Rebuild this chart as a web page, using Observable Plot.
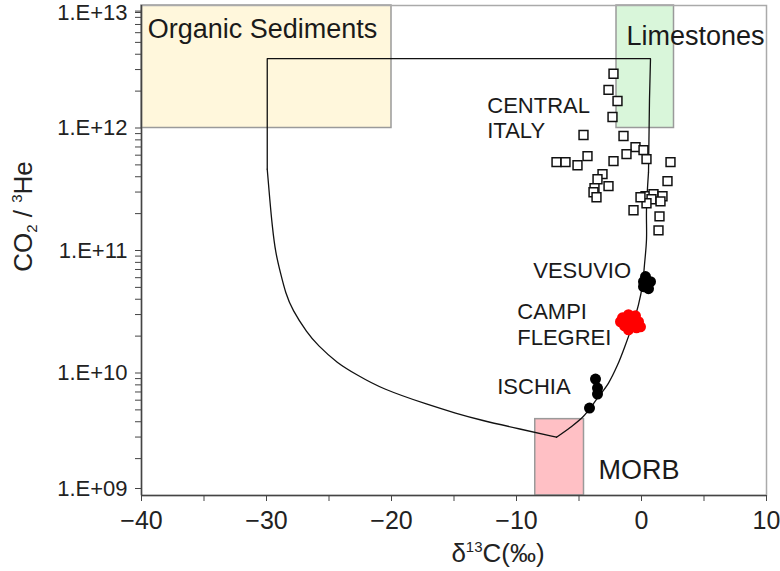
<!DOCTYPE html>
<html>
<head>
<meta charset="utf-8">
<script src="https://cdn.jsdelivr.net/npm/d3@7"></script>
<script src="https://cdn.jsdelivr.net/npm/@observablehq/plot@0.6"></script>
<style>
  html, body { margin: 0; padding: 0; background: #fff; }
</style>
</head>
<body>
<div id="chart"></div>
<script>
// ---- Data ----
const xTicks = [-40, -30, -20, -10, 0, 10];
const xMinorTicks = [-35, -25, -15, -5, 5];
const yTicks = [1e9, 1e10, 1e11, 1e12, 1e13];
const yMinorMultipliers = [2, 3, 4, 5, 6, 7, 8, 9];

// Source boxes
const boxNames = ["Organic Sediments", "Limestones", "MORB"];
const boxX1 = [-40, -2.0, -8.5];
const boxX2 = [-20, 2.6, -4.6];
const boxY1 = [1e12, 1e12, 1e9];
const boxY2 = [1e13, 1e13, 4.2e9];
const boxLabelX = [-39.5, -1.2, -3.44];
const boxLabelY = [6.35e12, 5.62e12, 1.6e9];

// Central Italy (open squares)
const centralX = [-2.24, -2.64, -1.92, -2.32, -4.64, -1.44, -0.48, 0.16, -1.2, 0.4, -2.24, -4.32, -5.12, -6.8, -6.08, 2.32, -3.12, -3.52, 2.08, -2.64, -3.76, -3.84, -3.6, 0.32, 0.96, 1.68, 0.8, 1.52, 0.4, -0.08, -0.64, 1.44, 1.36];
const centralY = [2.77e12, 2.05e12, 1.66e12, 1.23e12, 8.77e11, 8.6e11, 6.98e11, 6.6e11, 6.12e11, 5.57e11, 5.37e11, 5.89e11, 4.97e11, 5.26e11, 5.26e11, 5.26e11, 4.2e11, 3.82e11, 3.68e11, 3.35e11, 3.22e11, 2.99e11, 2.72e11, 2.77e11, 2.88e11, 2.77e11, 2.62e11, 2.52e11, 2.43e11, 2.72e11, 2.13e11, 1.9e11, 1.46e11];

// Vesuvio
const vesuvioX = [0.32, 0.72, 0.16, 0.56, 0.16];
const vesuvioY = [6.12e10, 5.57e10, 5.07e10, 4.88e10, 5.57e10];

// Campi Flegrei
const campiX = [-1.52, -1.04, -0.48, -0.24, -0.72, -1.36, -1.68, -1.04, -0.4, -0.88, -0.08];
const campiY = [2.82e10, 2.99e10, 2.93e10, 2.62e10, 2.43e10, 2.43e10, 2.62e10, 2.25e10, 2.34e10, 2.72e10, 2.38e10];

// Ischia
const ischiaX = [-3.68, -3.52, -3.52, -4.16];
const ischiaY = [8.93e9, 7.54e9, 6.73e9, 5.17e9];

// Mixing curve: straight upper part, smooth right branch, smooth left branch
const curveTopX = [-29.94, -29.94, 0.72, 0.64, 0.56];
const curveTopY = [4.61e11, 3.68e12, 3.68e12, 1.73e12, 4.36e11];
const curveRightX = [0.56, 0.4, 0.4, 0.24, 0.08, -0.24, -0.72, -1.28, -1.92, -2.64, -3.52, -4.64, -5.68, -6.8];
const curveRightY = [4.36e11, 2.17e11, 1.23e11, 7.68e10, 5.26e10, 3.61e10, 2.47e10, 1.7e10, 1.16e10, 8.28e9, 6.24e9, 4.44e9, 3.61e9, 2.99e9];
const curveLeftX = [-6.8, -9.68, -12.88, -14.88, -16.88, -20.88, -22.74, -24.34, -25.94, -26.74, -27.94, -28.48, -28.88, -29.28, -29.54, -29.74, -29.94];
const curveLeftY = [2.99e9, 3.48e9, 4.12e9, 4.7e9, 5.42e9, 7.49e9, 9.63e9, 1.2e10, 1.7e10, 2.12e10, 3.28e10, 4.5e10, 6.56e10, 9.58e10, 1.58e11, 2.62e11, 4.61e11];

// Site labels
const siteLabels = ["CENTRAL", "ITALY", "VESUVIO", "CAMPI", "FLEGREI", "ISCHIA"];
const siteLabelX = [-12.34, -12.34, -8.66, -9.94, -9.94, -11.54];
const siteLabelY = [1.51e12, 9.5e11, 6.76e10, 3.13e10, 1.95e10, 7.73e9];

// ---- Build tables ----
const zip = (xs, ys) => xs.map((x, i) => ({x, y: ys[i]}));
const boxes = boxNames.map((name, i) => ({name, x1: boxX1[i], x2: boxX2[i], y1: boxY1[i], y2: boxY2[i], lx: boxLabelX[i], ly: boxLabelY[i]}));
const central = zip(centralX, centralY);
const vesuvio = zip(vesuvioX, vesuvioY);
const campi = zip(campiX, campiY);
const ischia = zip(ischiaX, ischiaY);
const curveTop = zip(curveTopX, curveTopY);
const curveRight = zip(curveRightX, curveRightY);
const curveLeft = zip(curveLeftX, curveLeftY);
const sites = siteLabels.map((t, i) => ({t, x: siteLabelX[i], y: siteLabelY[i]}));
const yMinorTicks = yTicks.slice(0, -1).flatMap(d => yMinorMultipliers.map(m => m * d));

const boxFill = {"Organic Sediments": "#fff7dc", "Limestones": "#d9f6da", "MORB": "#ffc0c5"};
const boxFontSize = {"Organic Sediments": 27, "Limestones": 27, "MORB": 27};
const fmtY = d => "1.E+" + String(Math.round(Math.log10(d))).padStart(2, "0");
const axisColor = "#444";
const lineStyle = {x: "x", y: "y", stroke: "#111", strokeWidth: 1.3};

const yAxisOpts = {tickSize: 6, tickPadding: 8, fontSize: 22, tickFormat: fmtY, stroke: axisColor, fill: "#222"};

const plot = Plot.plot({
  width: 780,
  height: 571,
  marginLeft: 141,
  marginRight: 14,
  marginTop: 5,
  marginBottom: 76,
  style: {fontFamily: "'Liberation Sans', Arial, sans-serif", background: "#fff", color: "#222", overflow: "visible"},
  x: {domain: [-40, 10], label: null},
  y: {type: "log", domain: [1e9, 1e13], label: null},
  marks: [
    Plot.rect(boxes, {x1: "x1", x2: "x2", y1: "y1", y2: "y2", fill: d => boxFill[d.name], stroke: "#9a9a9a", strokeWidth: 1.5}),
    Plot.frame({stroke: "#aaa", strokeWidth: 1.5}),
    Plot.line(curveTop, {...lineStyle, curve: "linear"}),
    Plot.line(curveRight, {...lineStyle, curve: "catmull-rom"}),
    Plot.line(curveLeft, {...lineStyle, curve: "basis"}),
    Plot.dot(central, {x: "x", y: "y", symbol: "square", r: 5, fill: "#fff", stroke: "#111", strokeWidth: 1.5}),
    Plot.dot(vesuvio, {x: "x", y: "y", r: 5.5, fill: "#000"}),
    Plot.dot(campi, {x: "x", y: "y", r: 5.5, fill: "#ff0000"}),
    Plot.dot(ischia, {x: "x", y: "y", r: 5.5, fill: "#000"}),
    Plot.text(boxes, {x: "lx", y: "ly", text: "name", textAnchor: "start", fontSize: d => boxFontSize[d.name], fill: "#1a1a1a"}),
    Plot.text(sites, {x: "x", y: "y", text: "t", textAnchor: "start", fontSize: 22, fill: "#1a1a1a"}),
    Plot.ruleX([-40], {stroke: axisColor, strokeWidth: 1.5}),
    Plot.ruleY([1e9], {stroke: axisColor, strokeWidth: 1.5}),
    Plot.axisX(xMinorTicks, {tickSize: 6, tickFormat: () => "", stroke: axisColor}),
    Plot.axisX(xTicks, {tickSize: 6, tickPadding: 10, fontSize: 25, stroke: axisColor, fill: "#222"}),
    Plot.axisY(yMinorTicks, {tickSize: 6, tickFormat: () => "", stroke: axisColor}),
    Plot.axisY([1e10, 1e11, 1e12], yAxisOpts),
    Plot.axisY([1e9], {...yAxisOpts, dy: -7}),
    Plot.axisY([1e13], {...yAxisOpts, dy: 7}),
    Plot.text(["XTITLE"], {frameAnchor: "bottom", textAnchor: "middle", lineAnchor: "middle", dx: 44, dy: 58, fontSize: 26, fill: "#222"}),
    Plot.text(["YTITLE"], {frameAnchor: "left", textAnchor: "middle", lineAnchor: "middle", dx: -118, dy: -34, rotate: -90, fontSize: 26, fill: "#222"})
  ]
});

// Rich text (super/subscripts) for the axis titles
d3.select(plot).selectAll("text").each(function() {
  const el = d3.select(this);
  if (this.textContent === "XTITLE") {
    el.text(null);
    el.append("tspan").text("δ");
    el.append("tspan").attr("dy", -10).attr("font-size", 15).text("13");
    el.append("tspan").attr("dy", 10).text("C(‰)");
  } else if (this.textContent === "YTITLE") {
    el.text(null);
    el.append("tspan").text("CO");
    el.append("tspan").attr("dy", 5).attr("font-size", 15).text("2");
    el.append("tspan").attr("dy", -5).text(" / ");
    el.append("tspan").attr("dy", -10).attr("font-size", 15).text("3");
    el.append("tspan").attr("dy", 10).text("He");
  }
});

document.getElementById("chart").appendChild(plot);
</script>
</body>
</html>
